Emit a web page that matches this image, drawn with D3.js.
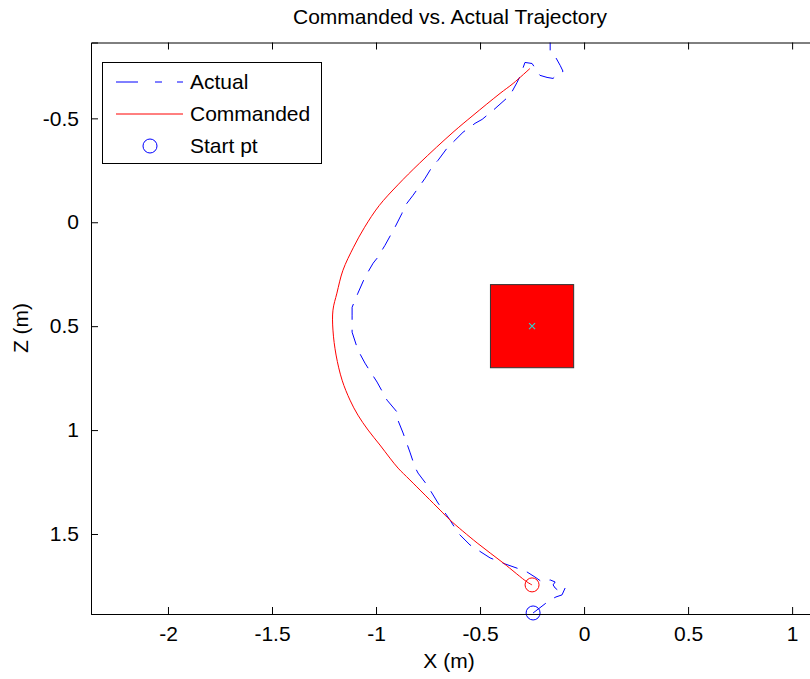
<!DOCTYPE html>
<html lang="en">
<head>
<meta charset="UTF-8">
<title>Commanded vs. Actual Trajectory</title>
<script src="https://cdn.jsdelivr.net/npm/d3@7"></script>
<style>
	body{ margin:0; background:#fff; }
	svg{ display:block; }
	text{ font-family:"Liberation Sans", Arial, sans-serif; fill:#000; }
	.axis path, .axis line{ stroke:#000; }
</style>
</head>
<body>
<svg width="810" height="679"></svg>
<script>
// tick values
var xTicks = [-2, -1.5, -1, -0.5, 0, 0.5, 1];
var zTicks = [-0.5, 0, 0.5, 1, 1.5];

// commanded trajectory (X, Z in m)
var cmdX = [-0.25, -0.274, -0.389, -0.514, -0.644, -0.692, -0.837, -0.894, -0.933, -0.981,
	-1.038, -1.087, -1.125, -1.163, -1.192, -1.207, -1.207, -1.188, -1.159, -1.108,
	-1.055, -0.985, -0.895, -0.790, -0.630, -0.534, -0.404, -0.341, -0.260];
var cmdZ = [1.745, 1.731, 1.639, 1.543, 1.433, 1.385, 1.240, 1.183, 1.135, 1.072,
	1.000, 0.928, 0.856, 0.760, 0.639, 0.519, 0.423, 0.341, 0.231, 0.120,
	0.024, -0.080, -0.180, -0.285, -0.433, -0.514, -0.620, -0.668, -0.740];

// actual trajectory
var actX = [-0.245, -0.207, -0.163, -0.135, -0.106, -0.091, -0.115, -0.139, -0.149, -0.139,
	-0.163, -0.202, -0.236, -0.274, -0.298, -0.380, -0.452, -0.548, -0.606, -0.644,
	-0.702, -0.755, -0.798, -0.813, -0.837, -0.870, -0.899, -0.899, -0.947, -0.995,
	-1.038, -1.053, -1.087, -1.115, -1.115, -1.115, -1.087, -1.053, -1.014, -0.995,
	-0.957, -0.909, -0.875, -0.870, -0.822, -0.764, -0.726, -0.702, -0.659, -0.582,
	-0.524, -0.490, -0.438, -0.356, -0.322, -0.308, -0.284, -0.250, -0.212, -0.178,
	-0.149, -0.125, -0.101, -0.115, -0.139, -0.163, -0.163, -0.168];
var actZ = [1.880, 1.851, 1.817, 1.803, 1.793, 1.760, 1.779, 1.760, 1.745, 1.731,
	1.721, 1.731, 1.707, 1.683, 1.673, 1.644, 1.615, 1.553, 1.495, 1.433,
	1.351, 1.264, 1.207, 1.178, 1.106, 1.014, 0.942, 0.913, 0.856, 0.769,
	0.702, 0.678, 0.615, 0.529, 0.447, 0.409, 0.341, 0.264, 0.197, 0.173,
	0.111, 0.024, -0.043, -0.067, -0.130, -0.212, -0.274, -0.298, -0.356, -0.433,
	-0.476, -0.495, -0.538, -0.611, -0.673, -0.702, -0.769, -0.764, -0.707, -0.697,
	-0.692, -0.716, -0.726, -0.755, -0.798, -0.822, -0.865, -0.899];

// start points: commanded (red), actual (blue)
var cmdStart = [-0.25, 1.745];
var actStart = [-0.245, 1.88];

// obstacle: centre and side
var obstacleCenter = [-0.25, 0.5];
var obstacleSide = 0.4;

var legendLabels = ["Actual", "Commanded", "Start pt"];

var svg = d3.select("svg");
var mLeft = 91, mRight = 815, mTop = 42.5, mBottom = 614;
var fs = 21;

var x = d3.scaleLinear().domain([-2.37, 1.11]).range([mLeft, mRight]);
var y = d3.scaleLinear().domain([-0.865, 1.885]).range([mTop, mBottom]);

svg.append("defs").append("clipPath").attr("id", "clip")
	.append("rect").attr("x", mLeft).attr("y", mTop)
	.attr("width", mRight - mLeft).attr("height", mBottom - mTop);

var plot = svg.append("g").attr("clip-path", "url(#clip)");

// obstacle square
plot.append("rect")
	.attr("x", x(obstacleCenter[0] - obstacleSide / 2))
	.attr("y", y(obstacleCenter[1] - obstacleSide / 2))
	.attr("width", x(obstacleCenter[0] + obstacleSide / 2) - x(obstacleCenter[0] - obstacleSide / 2))
	.attr("height", y(obstacleCenter[1] + obstacleSide / 2) - y(obstacleCenter[1] - obstacleSide / 2))
	.attr("fill", "#ff0000").attr("stroke", "#333").attr("stroke-width", 1);

var cx = x(obstacleCenter[0]), cy = y(obstacleCenter[1]);
plot.append("path")
	.attr("d", "M" + (cx - 3) + "," + (cy - 3) + "L" + (cx + 3) + "," + (cy + 3) +
		"M" + (cx - 3) + "," + (cy + 3) + "L" + (cx + 3) + "," + (cy - 3))
	.attr("stroke", "#33cccc").attr("stroke-width", 1.2);

var line = d3.line().x(d => x(d[0])).y(d => y(d[1]));
var smooth = d3.line().x(d => x(d[0])).y(d => y(d[1])).curve(d3.curveCatmullRom);

var actual = actX.map((v, i) => [v, actZ[i]]);
var commanded = cmdX.map((v, i) => [v, cmdZ[i]]);

plot.append("path").datum(actual)
	.attr("d", line).attr("fill", "none")
	.attr("stroke", "#0000ff").attr("stroke-width", 1)
	.attr("stroke-dasharray", "16,10");

plot.append("path").datum(commanded)
	.attr("d", smooth).attr("fill", "none")
	.attr("stroke", "#ff0000").attr("stroke-width", 1);

plot.append("circle").attr("cx", x(cmdStart[0])).attr("cy", y(cmdStart[1])).attr("r", 7)
	.attr("fill", "none").attr("stroke", "#ff0000");
svg.append("circle").attr("cx", x(actStart[0])).attr("cy", y(actStart[1])).attr("r", 7)
	.attr("fill", "none").attr("stroke", "#0000ff");

// axes with inward ticks on all sides
var tick = 7;
var fmt = d => String(d);
svg.append("g").attr("class", "axis").attr("transform", "translate(0," + mBottom + ")")
	.call(d3.axisBottom(x).tickValues(xTicks).tickSize(-tick).tickPadding(12).tickFormat(fmt))
	.call(g => g.selectAll("text").attr("font-size", fs));
svg.append("g").attr("class", "axis").attr("transform", "translate(0," + mTop + ")")
	.call(d3.axisTop(x).tickValues(xTicks).tickSize(-tick).tickFormat(""));
svg.append("g").attr("class", "axis").attr("transform", "translate(" + mLeft + ",0)")
	.call(d3.axisLeft(y).tickValues(zTicks).tickSize(-tick).tickPadding(12).tickFormat(fmt))
	.call(g => g.selectAll("text").attr("font-size", fs));
svg.selectAll(".axis").attr("font-family", null);

// labels
svg.append("text").attr("x", 450).attr("y", 24).attr("text-anchor", "middle")
	.attr("font-size", fs).text("Commanded vs. Actual Trajectory");
svg.append("text").attr("x", 449).attr("y", 668).attr("text-anchor", "middle")
	.attr("font-size", fs).text("X (m)");
svg.append("text").attr("transform", "translate(28,328) rotate(-90)").attr("text-anchor", "middle")
	.attr("font-size", fs).text("Z (m)");

// legend
var lg = svg.append("g");
lg.append("rect").attr("x", 102.5).attr("y", 62.5).attr("width", 219).attr("height", 101)
	.attr("fill", "#fff").attr("stroke", "#000");
lg.append("line").attr("x1", 116).attr("x2", 183).attr("y1", 82).attr("y2", 82)
	.attr("stroke", "#0000ff").attr("stroke-dasharray", "22,17,7,15,7");
lg.append("line").attr("x1", 116).attr("x2", 183).attr("y1", 114).attr("y2", 114)
	.attr("stroke", "#ff0000");
lg.append("circle").attr("cx", 150).attr("cy", 146).attr("r", 7)
	.attr("fill", "none").attr("stroke", "#0000ff");
lg.selectAll("text.lab").data(legendLabels).enter().append("text")
	.attr("class", "lab").attr("x", 190).attr("y", (d, i) => 89 + i * 32)
	.attr("font-size", fs).text(d => d);
</script>
</body>
</html>
